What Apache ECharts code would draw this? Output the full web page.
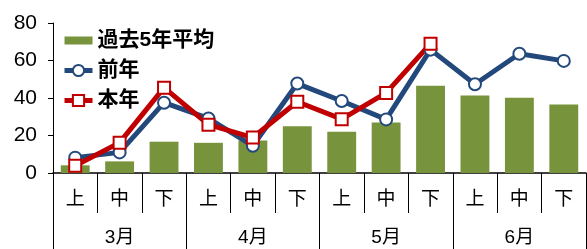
<!DOCTYPE html>
<html>
<head>
<meta charset="utf-8">
<script src="https://cdn.jsdelivr.net/npm/echarts@6/dist/echarts.min.js"></script>
<style>
html,body{margin:0;padding:0;background:#fff;}
#chart{width:587px;height:249px;}
</style>
</head>
<body>
<div id="chart"></div>
<script>
var junList=['上','中','下','上','中','下','上','中','下','上','中','下'];
var monthList=['3月','4月','5月','6月'];
var heinen=[4.1,6.2,16.7,16.1,17.4,25,22,27,46.6,41.4,40.2,36.5];
var zennen=[8.2,11,37.5,29.1,14.5,47.7,38.4,28.6,65.8,47.3,63.6,59.8];
var honnen=[3.9,16.2,45.5,25.8,18.9,38,28.7,42.7,69];
var yTicks=[0,20,40,60,80];

var fnt="'Liberation Sans','Noto Sans CJK JP',sans-serif";
var myChart=echarts.init(document.getElementById('chart'));
var option={
    animation:false,
    grid:{left:53,right:1,top:23,bottom:76},
    legend:{
        orient:'vertical',
        left:62,
        top:30,
        padding:0,
        itemWidth:28,
        itemHeight:14,
        itemGap:9,
        lineStyle:{width:5},
        textStyle:{color:'#000',fontSize:21,fontWeight:'bold',fontFamily:fnt,lineHeight:21},
        data:[{name:'過去5年平均',icon:'path://M0,0M0,3h28v8h-28zM28,14'},{name:'前年'},{name:'本年'}]
    },
    xAxis:[
        {
            type:'category',
            data:junList,
            boundaryGap:true,
            axisLine:{show:true,lineStyle:{color:'#000',width:1.5}},
            axisTick:{show:true,length:40,lineStyle:{color:'#000',width:1}},
            axisLabel:{color:'#000',fontSize:19,fontFamily:fnt,margin:17,interval:0}
        },
        {
            type:'category',
            data:monthList,
            position:'bottom',
            boundaryGap:true,
            axisLine:{show:false},
            axisTick:{show:true,length:76,lineStyle:{color:'#000',width:1}},
            axisLabel:{color:'#000',fontSize:19,fontFamily:fnt,margin:55,interval:0}
        }
    ],
    yAxis:{
        type:'value',
        min:0,max:80,interval:20,
        axisLine:{show:true,lineStyle:{color:'#000',width:1}},
        axisTick:{show:true,length:5,lineStyle:{color:'#000'}},
        axisLabel:{color:'#000',fontSize:21,fontFamily:fnt,margin:16,
            formatter:function(v){return yTicks.indexOf(v)>=0?String(v):'';}},
        splitLine:{show:false}
    },
    series:[
        {
            name:'過去5年平均',
            type:'bar',
            xAxisIndex:0,
            barWidth:'65%',
            itemStyle:{color:'#77933C'},
            data:heinen
        },
        {
            name:'前年',
            type:'line',
            xAxisIndex:0,
            symbol:'circle',
            symbolSize:12,
            lineStyle:{color:'#23497C',width:5},
            itemStyle:{color:'#fff',borderColor:'#23497C',borderWidth:2},
            data:zennen
        },
        {
            name:'本年',
            type:'line',
            xAxisIndex:0,
            symbol:'rect',
            symbolSize:12,
            lineStyle:{color:'#C00000',width:5},
            itemStyle:{color:'#fff',borderColor:'#C00000',borderWidth:2},
            data:honnen
        }
    ]
};
myChart.setOption(option);
</script>
</body>
</html>
